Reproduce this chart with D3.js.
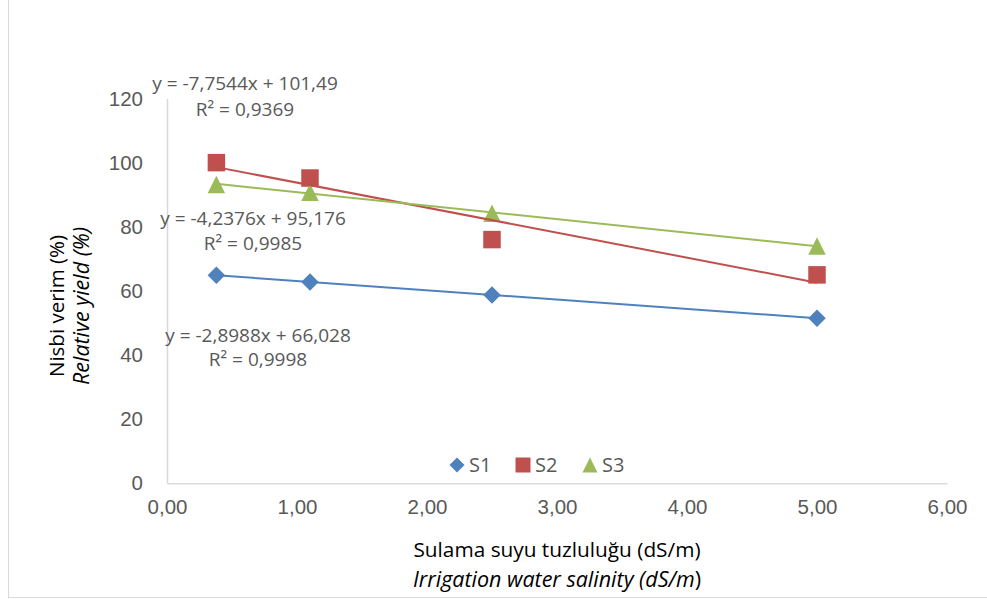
<!DOCTYPE html>
<html>
<head>
<meta charset="utf-8">
<script src="https://cdn.jsdelivr.net/npm/d3@7"></script>
<style>
  html, body { margin: 0; padding: 0; background: #fff; }
  svg { display: block; font-family: "Open Sans", sans-serif; }
</style>
</head>
<body>
<svg id="chart" width="987" height="599"></svg>
<script>
// ---- data ----
const seriesNames = ["S1", "S2", "S3"];
const salinity = [0.38, 1.1, 2.5, 5.0];
const s1Values = [64.9, 62.8, 58.7, 51.5];
const s2Values = [100.0, 95.2, 76.0, 65.0];
const s3Values = [93.2, 90.8, 84.2, 74.0];
const xTicks = [0, 1, 2, 3, 4, 5, 6];
const yTicks = [0, 20, 40, 60, 80, 100, 120];
const equations = ["y = -2,8988x + 66,028", "y = -7,7544x + 101,49", "y = -4,2376x + 95,176"];
const rSquared = ["R² = 0,9998", "R² = 0,9369", "R² = 0,9985"];
const yTitle = ["Nisbi verim (%)", "Relative yield (%)"];
const xTitle = ["Sulama suyu tuzluluğu (dS/m)", "Irrigation water salinity (dS/m"];

// ---- styles ----
const colors = ["#4f81bd", "#c0504d", "#9bbb59"];
// custom marker shapes: size = side length squared
const diamond = { draw(ctx, size) { const h = Math.sqrt(size) / 2;
  ctx.moveTo(0, -h); ctx.lineTo(h, 0); ctx.lineTo(0, h); ctx.lineTo(-h, 0); ctx.closePath(); } };
const square = { draw(ctx, size) { const h = Math.sqrt(size) / 2;
  ctx.moveTo(-h, -h); ctx.lineTo(h, -h); ctx.lineTo(h, h); ctx.lineTo(-h, h); ctx.closePath(); } };
const triangle = { draw(ctx, size) { const h = Math.sqrt(size) / 2;
  ctx.moveTo(0, -h); ctx.lineTo(h, h); ctx.lineTo(-h, h); ctx.closePath(); } };
const symbols = [diamond, square, triangle];
const symbolSize = [17.5 * 17.5, 17.5 * 17.5, 17.5 * 17.5];
const legendSymbolSize = [15 * 15, 15 * 15, 15 * 15];
const eqPos = [[258, 342, 366], [245, 90, 116], [253, 225, 250]]; // cx, baseline1, baseline2
const textGray = "#595959";

const svg = d3.select("#chart");
const plotLeft = 167, plotRight = 947, plotTop = 98.5, plotBottom = 483.3;

const x = d3.scaleLinear().domain([0, 6]).range([plotLeft, plotRight]);
const y = d3.scaleLinear().domain([0, 120]).range([plotBottom, plotTop]);

// outer chart border (partially visible)
svg.append("rect").attr("x", 8.5).attr("y", -2).attr("width", 990).attr("height", 599.5)
  .attr("fill", "none").attr("stroke", "#d9d9d9").attr("stroke-width", 1);

// axes
const xAxis = d3.axisBottom(x).tickValues(xTicks).tickSize(0).tickPadding(16)
  .tickFormat(d => d3.format(".2f")(d).replace(".", ","));
const gx = svg.append("g").attr("transform", `translate(0,${plotBottom})`).call(xAxis);
gx.select(".domain").attr("stroke", "#d9d9d9").attr("stroke-width", 1.5);
gx.selectAll("text").attr("fill", textGray).style("font-size", "20.5px").attr("dy", "0.71em");

const yAxis = d3.axisLeft(y).tickValues(yTicks).tickSize(0).tickPadding(24);
const gy = svg.append("g").attr("transform", `translate(${plotLeft},0)`).call(yAxis);
gy.select(".domain").attr("stroke", "#d9d9d9").attr("stroke-width", 1.5);
gy.selectAll("text").attr("fill", textGray).style("font-size", "20.5px");

// axis titles
const xt = svg.append("text").attr("text-anchor", "middle").attr("fill", "#000");
xt.append("tspan").attr("x", 557).attr("y", 557).style("font-size", "20.8px").text(xTitle[0]);
const xt2 = xt.append("tspan").attr("x", 557).attr("y", 587).style("font-size", "21.5px");
xt2.append("tspan").style("font-style", "italic").text(xTitle[1]);
xt2.append("tspan").text(")");

const yt = svg.append("text").attr("text-anchor", "middle").attr("fill", "#000")
  .attr("transform", "translate(0,306) rotate(-90)");
yt.append("tspan").attr("x", 0).attr("y", 64).style("font-size", "20.5px").text(yTitle[0]);
yt.append("tspan").attr("x", 0).attr("y", 89).style("font-size", "21.5px").style("font-style", "italic").text(yTitle[1]);

// series
const allValues = [s1Values, s2Values, s3Values];
const series = seriesNames.map((name, i) => ({
  name, color: colors[i], symbol: symbols[i],
  points: salinity.map((sx, j) => ({ x: sx, y: allValues[i][j] }))
}));

// markers
series.forEach((s, i) => {
  svg.append("g").selectAll("path").data(s.points).join("path")
    .attr("d", d3.symbol().type(s.symbol).size(symbolSize[i]))
    .attr("transform", d => `translate(${x(d.x)},${y(d.y)})`)
    .attr("fill", s.color);
});

// least-squares trendlines
function fit(pts) {
  const mx = d3.mean(pts, p => p.x), my = d3.mean(pts, p => p.y);
  const b = d3.sum(pts, p => (p.x - mx) * (p.y - my)) / d3.sum(pts, p => (p.x - mx) ** 2);
  return { b, a: my - b * mx };
}
const line = d3.line().x(d => x(d.x)).y(d => y(d.y));
series.forEach(s => {
  const f = fit(s.points);
  const ext = d3.extent(s.points, p => p.x);
  svg.append("path")
    .datum(ext.map(v => ({ x: v, y: f.a + f.b * v })))
    .attr("d", line).attr("fill", "none")
    .attr("stroke", s.color).attr("stroke-width", 2);
});

// equation labels
series.forEach((s, i) => {
  const t = svg.append("text").attr("text-anchor", "middle").style("font-size", "19px").attr("fill", textGray);
  t.append("tspan").attr("x", eqPos[i][0]).attr("y", eqPos[i][1]).text(equations[i]);
  t.append("tspan").attr("x", eqPos[i][0]).attr("y", eqPos[i][2]).text(rSquared[i]);
});

// legend
const legendX = [457, 523, 590];
const lg = svg.append("g");
series.forEach((s, i) => {
  lg.append("path").attr("d", d3.symbol().type(s.symbol).size(legendSymbolSize[i]))
    .attr("transform", `translate(${legendX[i]},465)`).attr("fill", s.color);
  lg.append("text").attr("x", legendX[i] + 12).attr("y", 472).style("font-size", "20px")
    .attr("fill", textGray).text(s.name);
});
</script>
</body>
</html>
